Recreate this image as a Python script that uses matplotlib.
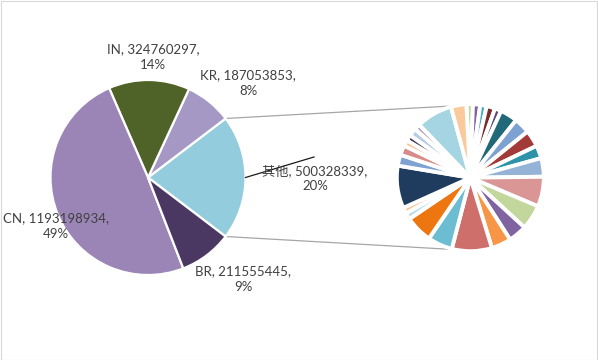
import matplotlib
matplotlib.use("Agg")
import matplotlib.pyplot as plt
import numpy as np
from matplotlib.patches import Rectangle

# ---- data ----
main_names = ["其他", "KR", "IN", "CN", "BR"]
main_values = [500328339, 187053853, 324760297, 1193198934, 211555445]
main_pct_labels = ["20%", "8%", "14%", "49%", "9%"]
main_colors = ["#93CDDD", "#A598C5", "#4F6228", "#9B85B7", "#4A3863"]

# secondary pie (breakdown of 其他), clockwise from the top, in millions (estimated)
other_values = [7.2, 7.9, 7.2, 9.3, 7.2, 19.0, 17.6, 18.3, 14.2, 20.4,
                32.9, 27.3, 20.4, 21.8, 44.0, 27.3, 30.1, 7.2, 6.5, 46.8,
                12.1, 10.7, 6.5, 6.5, 8.6, 6.5, 39.8, 16.9]
other_colors = ["#C3D69B", "#8064A2", "#4BACC6", "#7B2B2A", "#5F497A",
                "#216878", "#7DA2D1", "#A23B38", "#2E93A8", "#95B3D7",
                "#D99694", "#C3D69B", "#8064A2", "#F79646", "#CF6F6C",
                "#6CBDD1", "#EE7611", "#B7DEE8", "#FAC090", "#1F3C5F",
                "#7EA2D1", "#D98B8A", "#FAC090", "#403152", "#B9CDE5",
                "#B3A2C7", "#A5D5E2", "#FAC99C"]

# ---- layout ----
W, H = 598, 360
fig = plt.figure(figsize=(W / 100, H / 100), dpi=100)
ax = fig.add_axes([0, 0, 1, 1])

c1, r1 = (148.0, 182.5), 97.5
c2, r2 = (470.3, 182.3), 73.5

total = sum(main_values)
half = main_values[0] / total * 180.0

ax.pie(main_values, colors=main_colors, startangle=-half, counterclock=True,
       center=c1, radius=r1,
       wedgeprops=dict(edgecolor="white", linewidth=1.6))

ax.pie(other_values, colors=other_colors, startangle=93.1, counterclock=False,
       center=c2, radius=r2,
       wedgeprops=dict(edgecolor="white", linewidth=2.8))

# connector lines
for a1, a2 in [(half, 102.0), (-half, 258.0)]:
    p1 = (c1[0] + r1 * np.cos(np.radians(a1)), c1[1] + r1 * np.sin(np.radians(a1)))
    p2 = (c2[0] + r2 * np.cos(np.radians(a2)), c2[1] + r2 * np.sin(np.radians(a2)))
    ax.plot([p1[0], p2[0]], [p1[1], p2[1]], color="#A6A6A6", lw=0.9, zorder=0.5)

# leader line for 其他 label
ax.plot([c1[0] + r1, 314], [c1[1], 203], color="#1a1a1a", lw=0.9, zorder=3)

# labels
label_pos = {"其他": (315, 182), "KR": (248, 277), "IN": (153, 303),
             "CN": (56, 134), "BR": (243, 81)}
fam = ["Lato", "Noto Sans CJK SC", "DejaVu Sans"]
for name, val, pct in zip(main_names, main_values, main_pct_labels):
    x, y = label_pos[name]
    ax.text(x, y, f"{name}, {val},\n{pct}", ha="center", va="center",
            fontsize=9.5, color="#404040", family=fam, linespacing=1.35, zorder=4)

ax.add_patch(Rectangle((0.5, 0.5), W - 1.5, H - 1.5, fill=False,
                       edgecolor="#D9D9D9", lw=0.8))

ax.set_xlim(0, W)
ax.set_ylim(0, H)
ax.set_aspect("auto")
ax.axis("off")
fig.savefig("out.png", dpi=100)
